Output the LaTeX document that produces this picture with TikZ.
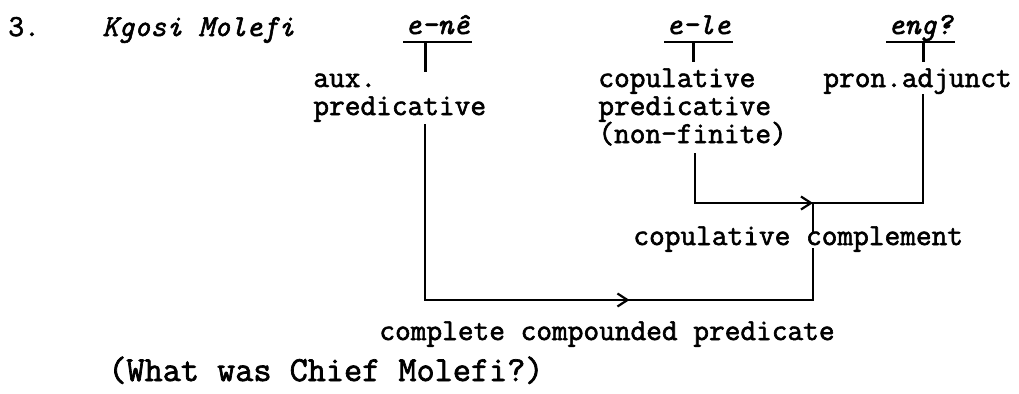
\documentclass[tikz,border=0pt]{standalone}
\usepackage{fontspec}
\usetikzlibrary{arrows.meta,calc}
\newfontfamily\tw[FakeBold=2]{Latin Modern Mono}
\tikzset{
  lbl/.style={anchor=base west,inner sep=0pt,font=\tw\fontsize{15.24pt}{18pt}\selectfont},
  wrd/.style={lbl,font=\tw\itshape\fontsize{15.24pt}{18pt}\selectfont},
  bigl/.style={lbl,font=\tw\fontsize{17.6pt}{20pt}\selectfont},
  ln/.style={line width=1.25pt},
  arr/.style={line width=1.1pt,-{Straight Barb[length=5pt,width=6.5pt]}},
}
\begin{document}
\begin{tikzpicture}[x=0.5pt,y=-0.5pt]
\useasboundingbox (0,0) rectangle (1019,393);
% texts
\node[lbl] (num) at (8,36) {3.};
\node[wrd] (kgosi) at (102,36) {Kgosi Molefi};
\node[wrd] (ene) at (405,34) {e-nê};
\node[wrd] (ele) at (666,34) {e-le};
\node[wrd] (eng) at (888,34) {eng?};
\node[lbl] (aux1) at (313,87) {aux.};
\node[lbl] (aux2) at (313,115) {predicative};
\node[lbl] (cop1) at (598,87) {copulative};
\node[lbl] (cop2) at (598,115) {predicative};
\node[lbl] (cop3) at (598,143) {(non-finite)};
\node[lbl] (pron) at (823,87) {pron.adjunct};
\node[lbl] (cc) at (633,245) {copulative complement};
\node[lbl] (ccp) at (379,340) {complete compounded predicate};
\node[bigl] (q) at (108,381) {(What was Chief Molefi?)};
% underlines and ticks
\foreach \w/\t/\l in {ene/-12/30, ele/-5/20, eng/3/20}{
  \draw[ln] ($(\w.base west)+(-2,8)$) -- ($(\w.base east)+(2,8)$);
  \draw[ln] ($(\w.base)+(\t,8)$) -- ++(0,\l);
}
% connector points
\coordinate (A) at ($(aux2.base west)+(112,9)$);
\coordinate (C) at ($(cop3.base west)+(97,10)$);
\coordinate (P) at ($(pron.base west)+(100,7)$);
\coordinate (J1) at ($(cc.base west)+(180,-42)$);
\coordinate (Ct) at ($(cc.base west)+(180,-13)$);
\coordinate (Cb) at ($(cc.base west)+(180,3)$);
\coordinate (B) at (A |- 0,300);
\coordinate (J2) at (B -| J1);
% upper structure
\draw[ln] (C) |- (J1) -| (P);
\draw[arr] ($(J1)+(-2,0)$) -- (J1);
\draw[ln] (J1) -- (Ct);
% lower structure
\draw[ln] (A) -- (B) -- (J2) -- (Cb);
\draw[arr] ($(B)!0.52!(J2)$) -- ($(B)!0.527!(J2)$);
\end{tikzpicture}
\end{document}
